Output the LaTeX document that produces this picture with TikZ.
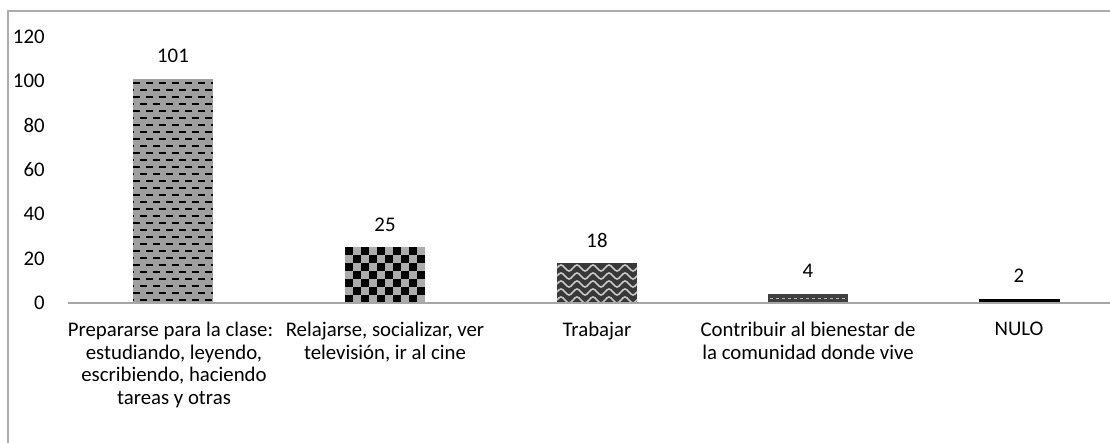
\documentclass[tikz,border=0pt]{standalone}
\usepackage{fontspec}
\setmainfont{Carlito}
\usepackage{tikz}

\tikzset{
  lbl/.style={font=\fontsize{10.4}{11.2}\selectfont, inner sep=0pt},
  catlbl/.style={lbl, align=center, anchor=north},
  frameline/.style={gray!65, line width=0.6pt},
}

\begin{document}
\begin{tikzpicture}[x=0.5pt,y=-0.5pt]
\useasboundingbox (0,0) rectangle (1110,443);

\draw[frameline] (1110,11)--(8,11)--(8,443);

\foreach \v in {0,20,...,120}
  \node[lbl, anchor=east] (y\v) at (45,{303-2.22*\v}) {\v};

\fill[gray!75] (133,303) rectangle (213,78.8);
\begin{scope}
\clip (133,303) rectangle (213,78.8);
\foreach \yy in {83,97,...,303}
  \draw[black, line width=1pt, dash pattern=on 3.5pt off 3pt] (133,\yy)--(213,\yy);
\foreach \yy in {90,104,...,303}
  \draw[black, line width=1pt, dash pattern=on 3.5pt off 3pt, dash phase=3.25pt] (133,\yy)--(213,\yy);
\end{scope}

\fill[gray!65] (345,303) rectangle (425,247.5);
\begin{scope}
\clip (345,303) rectangle (425,247.5);
\foreach \i in {0,2,...,8}
  \foreach \j in {0,2,4,6}
    \fill[black] ({345+8*\i},{303-8*\j}) rectangle +(8,-8);
\foreach \i in {1,3,...,9}
  \foreach \j in {1,3,5}
    \fill[black] ({345+8*\i},{303-8*\j}) rectangle +(8,-8);
\end{scope}

\fill[black!78] (557,303) rectangle (637,263);
\begin{scope}
\clip (557,303) rectangle (637,263);
\foreach \yy in {268,276,...,303}
  \foreach \xx in {557,573,...,637}
    \draw[gray!45, line width=0.8pt] (\xx,\yy) sin ++(4,-3) cos ++(4,3) sin ++(4,3) cos ++(4,-3);
\end{scope}

\fill[black!75] (768,303) rectangle (848,294.1);
\draw[gray!55, line width=0.5pt, dash pattern=on 1.5pt off 1.5pt] (770,298.5)--(846,298.5);

\fill[black] (979,303) rectangle (1060,298.6);

\draw[gray!70, line width=1pt] (68,303)--(1110,303);

\node[lbl] (v1) at (173,55.8) {101};
\node[lbl] (v2) at (385,224.5) {25};
\node[lbl] (v3) at (597,240) {18};
\node[lbl] (v4) at (808,271.1) {4};
\node[lbl] (v5) at (1019,275.6) {2};

\node[catlbl] (c1) at (174,322) {Prepararse para la clase:\hspace*{3.5pt}\\estudiando, leyendo,\\escribiendo, haciendo\\tareas y otras};
\node[catlbl] (c2) at (385,322) {Relajarse, socializar, ver\\televisión, ir al cine};
\node[catlbl] (c3) at (597,322) {Trabajar};
\node[catlbl] (c4) at (808,322) {Contribuir al bienestar de\\la comunidad donde vive};
\node[catlbl] (c5) at (1019,322) {NULO};

\end{tikzpicture}
\end{document}
